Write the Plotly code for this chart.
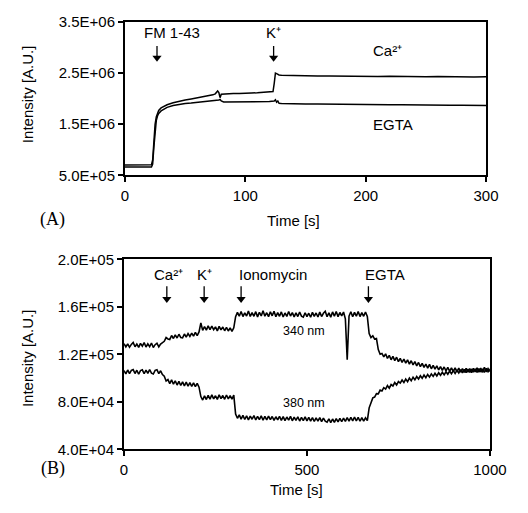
import plotly.graph_objects as go

# ---------------- Panel A: FM 1-43 uptake ----------------
time_a = [0, 5, 10, 15, 20, 22, 23, 24, 25, 26, 27, 28, 30, 32, 35, 40, 45, 50, 55, 60,
          65, 70, 73, 75, 77, 78, 79, 80, 82, 85, 90, 95, 100, 105, 110, 115, 120, 122, 123, 124,
          125, 126, 127, 128, 130, 135, 140, 150, 160, 170, 180, 190, 200, 210, 220, 230, 240, 250, 260, 270,
          280, 290, 300]

# intensities in units of 1e6 A.U.
ca_a = [0.700, 0.703, 0.699, 0.702, 0.700, 0.706, 0.80, 1.20, 1.50, 1.64, 1.72, 1.77, 1.82, 1.85, 1.88, 1.92, 1.955, 1.975, 1.995, 2.015,
        2.035, 2.055, 2.075, 2.095, 2.15, 2.12, 2.02, 2.085, 2.09, 2.095, 2.10, 2.10, 2.11, 2.11, 2.115, 2.12, 2.125, 2.13, 2.14, 2.30,
        2.50, 2.49, 2.47, 2.465, 2.46, 2.455, 2.45, 2.45, 2.445, 2.445, 2.44, 2.445, 2.44, 2.435, 2.44, 2.435, 2.435, 2.43, 2.435, 2.43,
        2.43, 2.425, 2.43]

egta_a = [0.660, 0.657, 0.662, 0.659, 0.661, 0.664, 0.72, 1.05, 1.40, 1.57, 1.66, 1.71, 1.76, 1.79, 1.83, 1.865, 1.89, 1.905, 1.915, 1.925,
          1.935, 1.945, 1.955, 1.96, 1.97, 1.975, 1.985, 1.955, 1.935, 1.935, 1.94, 1.935, 1.94, 1.935, 1.94, 1.945, 1.945, 1.95, 1.955, 1.955,
          1.98, 1.93, 1.955, 1.91, 1.905, 1.90, 1.90, 1.895, 1.895, 1.89, 1.89, 1.885, 1.885, 1.88, 1.88, 1.88, 1.875, 1.875, 1.875, 1.87,
          1.87, 1.87, 1.865]

yticks_a = [5.0e5, 1.5e6, 2.5e6, 3.5e6]
xticks_a = [0, 100, 200, 300]

# ---------------- Panel B: Fura-2 ratiometric recording ----------------
# sampled every 5 s, intensities in units of 1e3 A.U.
f340 = [
    129.0, 126.3, 128.9, 126.0, 128.4, 130.1, 126.5, 128.8, 125.9, 129.3, 127.0, 130.0, 126.2, 128.9, 126.6, 129.6, 125.8, 128.2, 129.4, 126.4, 128.7,
    129.8, 131.0, 134.2, 133.0, 132.6, 135.9, 133.4, 136.5, 133.8, 137.0, 134.3, 134.0, 137.2, 134.6, 137.5, 135.1, 138.0, 135.4, 138.6, 135.9,
    138.9, 146.5, 140.2, 143.5, 140.5, 144.0, 140.8, 143.8, 140.9, 143.2, 139.8, 143.6, 140.6, 143.1, 139.9, 142.8, 139.7, 142.3, 139.4, 142.4,
    151.8, 155.4, 152.2, 156.2, 151.9, 155.0, 152.3, 156.6, 152.0, 155.2, 152.1, 156.0, 151.6, 155.5, 152.4, 156.8, 152.2, 155.1, 151.8, 155.9,
    152.5, 156.3, 151.7, 155.2, 152.1, 155.8, 151.5, 154.9, 152.0, 156.1, 152.3, 155.3, 151.6, 155.0, 151.9, 155.7, 152.2, 151.4, 155.1, 151.8,
    154.7, 151.3, 155.4, 152.0, 154.9, 151.5, 155.6, 151.9, 154.6, 156.3, 151.7, 155.0, 151.4, 155.8, 152.1, 156.2, 151.8, 155.3, 152.5, 155.7,
    150.0, 115.5, 152.3, 155.9, 151.7, 155.4, 152.2, 156.1, 151.9, 155.2, 152.1, 155.7, 152.0, 137.5, 134.2, 135.7, 132.9, 133.4, 124.0, 120.2,
    120.8, 117.9, 120.5, 116.6, 119.2, 115.5, 118.3, 114.8, 117.6, 113.9, 116.7, 113.2, 116.1, 112.6, 115.4, 111.8, 114.7, 111.1, 113.9, 110.4,
    113.2, 109.7, 112.5, 109.1, 111.9, 108.4, 111.6, 107.9, 110.8, 107.6, 110.3, 106.9, 109.8, 106.5, 109.4, 106.2, 109.1, 105.8, 108.7, 105.5,
    108.6, 105.2, 108.4, 105.0, 108.1, 104.8, 108.3, 105.1, 108.0, 104.7, 108.2, 105.3, 108.8, 105.0, 108.4, 104.9, 109.2, 105.4, 108.1, 105.6,
]

f380 = [
    106.4, 103.6, 106.9, 103.8, 106.5, 107.2, 103.9, 106.7, 103.3, 106.4, 107.0, 103.7, 106.8, 104.0, 107.3, 104.2, 103.5, 106.6, 107.1, 103.8, 106.2,
    103.0, 101.6, 97.6, 98.8, 95.4, 98.5, 94.9, 97.8, 94.2, 97.3, 93.8, 96.9, 93.5, 96.6, 93.2, 96.3, 93.0, 96.1, 92.8, 95.6,
    92.4, 84.5, 81.6, 85.1, 82.0, 85.6, 82.3, 85.9, 82.5, 85.2, 82.1, 86.0, 82.7, 85.4, 82.2, 85.8, 82.6, 85.3, 82.4, 85.7,
    69.8, 66.2, 69.1, 65.5, 68.6, 65.2, 68.3, 64.9, 68.0, 65.4, 68.5, 64.8, 67.9, 65.1, 68.2, 64.6, 67.8, 64.9, 68.1, 65.0,
    67.7, 64.4, 67.5, 64.8, 67.9, 64.5, 67.6, 64.2, 67.3, 64.6, 67.8, 64.1, 67.2, 64.4, 67.5, 63.9, 67.0, 64.3, 67.4, 64.0,
    66.9, 63.8, 66.7, 63.5, 66.6, 63.9, 66.8, 63.4, 66.3, 63.7, 62.9, 65.8, 62.6, 65.6, 62.8, 66.0, 63.1, 66.2, 63.3, 66.4,
    63.6, 66.7, 63.8, 67.0, 64.1, 67.2, 64.0, 66.9, 63.7, 66.8, 63.9, 66.6, 64.2, 75.0, 79.0, 83.4, 84.1, 87.0, 86.8, 89.9,
    89.2, 92.0, 90.8, 93.8, 91.6, 94.6, 93.4, 96.3, 94.2, 97.1, 95.8, 98.4, 96.3, 99.2, 97.1, 100.1, 97.8, 100.8, 98.6, 101.4,
    99.3, 102.0, 99.9, 102.6, 100.4, 103.1, 100.9, 103.6, 101.5, 104.1, 101.9, 104.5, 102.4, 105.0, 102.8, 105.4, 103.3, 105.9, 103.7, 106.3,
    103.9, 106.7, 104.3, 107.1, 104.5, 107.3, 104.7, 107.5, 104.9, 107.7, 105.0, 107.8, 104.8, 108.0, 105.2, 107.9, 104.9, 108.2, 105.4, 107.8,
]
sample_step_b = 5  # seconds between samples

yticks_b = [4.0e4, 8.0e4, 1.2e5, 1.6e5, 2.0e5]
xticks_b = [0, 500, 1000]

# event markers: (label, label time, arrow time)
events_a = [("FM 1-43", 38.7, 26.6), ("K⁺", 123.5, 123.5)]
events_b = [("Ca²⁺", 121.7, 117.0), ("K⁺", 218.7, 219.0),
            ("Ionomycin", 408.0, 320.0), ("EGTA", 712.0, 668.0)]

# ---------------------------------------------------------------------------
W, H = 528, 513
SANS = "Liberation Sans, Arial, sans-serif"
SERIF = "Liberation Serif, Times New Roman, serif"


def px(x):
    return x / W


def py(y):
    return 1 - y / H


time_b = [i * sample_step_b for i in range(len(f340))]

fig = go.Figure()
fig.add_trace(go.Scatter(x=time_a, y=[v * 1e6 for v in ca_a], mode="lines",
                         line=dict(color="black", width=1.5), xaxis="x", yaxis="y", showlegend=False))
fig.add_trace(go.Scatter(x=time_a, y=[v * 1e6 for v in egta_a], mode="lines",
                         line=dict(color="black", width=1.5), xaxis="x", yaxis="y", showlegend=False))
fig.add_trace(go.Scatter(x=time_b, y=[v * 1e3 for v in f340], mode="lines",
                         line=dict(color="black", width=1.6), xaxis="x2", yaxis="y2", showlegend=False))
fig.add_trace(go.Scatter(x=time_b, y=[v * 1e3 for v in f380], mode="lines",
                         line=dict(color="black", width=1.6), xaxis="x2", yaxis="y2", showlegend=False))


def add_arrows(times, tail, stem_end, head, xa, ya):
    """Downward event arrows: a vertical stem plus a filled triangle head."""
    xs, ys = [], []
    for t in times:
        xs += [t, t, None]
        ys += [tail, stem_end, None]
    fig.add_trace(go.Scatter(x=xs, y=ys, mode="lines", line=dict(color="black", width=1.3),
                             xaxis=xa, yaxis=ya, showlegend=False, hoverinfo="skip"))
    fig.add_trace(go.Scatter(x=list(times), y=[head] * len(times), mode="markers",
                             marker=dict(symbol="triangle-down", size=8, color="black",
                                         line=dict(width=0)),
                             xaxis=xa, yaxis=ya, showlegend=False, hoverinfo="skip"))


add_arrows([e[2] for e in events_a], 3.03e6, 2.82e6, 2.80e6, "x", "y")
add_arrows([e[2] for e in events_b], 177.5e3, 168.0e3, 166.6e3, "x2", "y2")

axis_common = dict(showline=True, mirror=True, linecolor="black", linewidth=2,
                   ticks="outside", ticklen=5, tickwidth=1.5, tickcolor="black",
                   showgrid=False, zeroline=False,
                   tickfont=dict(family=SANS, size=15, color="black"))

fig.update_layout(
    width=W, height=H,
    margin=dict(l=0, r=0, t=0, b=0),
    paper_bgcolor="white", plot_bgcolor="white",
    xaxis=dict(domain=[px(126), px(502)], range=[0, 300], tickvals=xticks_a,
               anchor="y", ticklabelstandoff=1, **axis_common),
    yaxis=dict(domain=[py(172), py(13.5)], range=[5.0e5, 3.5e6], tickvals=yticks_a,
               ticktext=[f"{v:.1E}" for v in yticks_a], anchor="x", **axis_common),
    xaxis2=dict(domain=[px(125), px(506)], range=[0, 1000], tickvals=xticks_b,
                anchor="y2", ticklabelstandoff=1, **axis_common),
    yaxis2=dict(domain=[py(455.5), py(259)], range=[4.0e4, 2.0e5], tickvals=yticks_b,
                ticktext=[f"{v:.1E}" for v in yticks_b], anchor="x2", **axis_common),
)

ann = []
txt = dict(family=SANS, size=15, color="black")

# axis titles and panel letters
for x, y, t, ang in [(24, 88, "Intensity [A.U.]", -90), (302, 219, "Time [s]", 0),
                     (24, 361, "Intensity [A.U.]", -90), (305, 497, "Time [s]", 0)]:
    ann.append(dict(x=px(x), y=py(y), xref="paper", yref="paper", text=t, showarrow=False,
                    textangle=ang, font=txt, xanchor="center", yanchor="middle"))
for x, y, t in [(51, 218, "(A)"), (51, 475, "(B)")]:
    ann.append(dict(x=px(x), y=py(y), xref="paper", yref="paper", text=t, showarrow=False,
                    font=dict(family=SERIF, size=18, color="black"),
                    xanchor="center", yanchor="middle"))

# panel A labels
for label, tl, _ in events_a:
    ann.append(dict(x=tl, y=3.30e6, xref="x", yref="y", text=label, showarrow=False,
                    font=txt, yanchor="middle"))
ann.append(dict(x=218, y=2.94e6, xref="x", yref="y", text="Ca²⁺",
                showarrow=False, font=txt, yanchor="middle"))
ann.append(dict(x=223, y=1.49e6, xref="x", yref="y", text="EGTA",
                showarrow=False, font=txt, yanchor="middle"))

# panel B labels
for label, tl, _ in events_b:
    ann.append(dict(x=tl, y=186.9e3, xref="x2", yref="y2", text=label, showarrow=False,
                    font=txt, yanchor="middle"))
small = dict(family=SANS, size=12.5, color="black")
ann.append(dict(x=492, y=139.7e3, xref="x2", yref="y2", text="340 nm",
                showarrow=False, font=small, yanchor="middle"))
ann.append(dict(x=492, y=79.0e3, xref="x2", yref="y2", text="380 nm",
                showarrow=False, font=small, yanchor="middle"))

fig.update_layout(annotations=ann)
fig.write_html("out.html")
